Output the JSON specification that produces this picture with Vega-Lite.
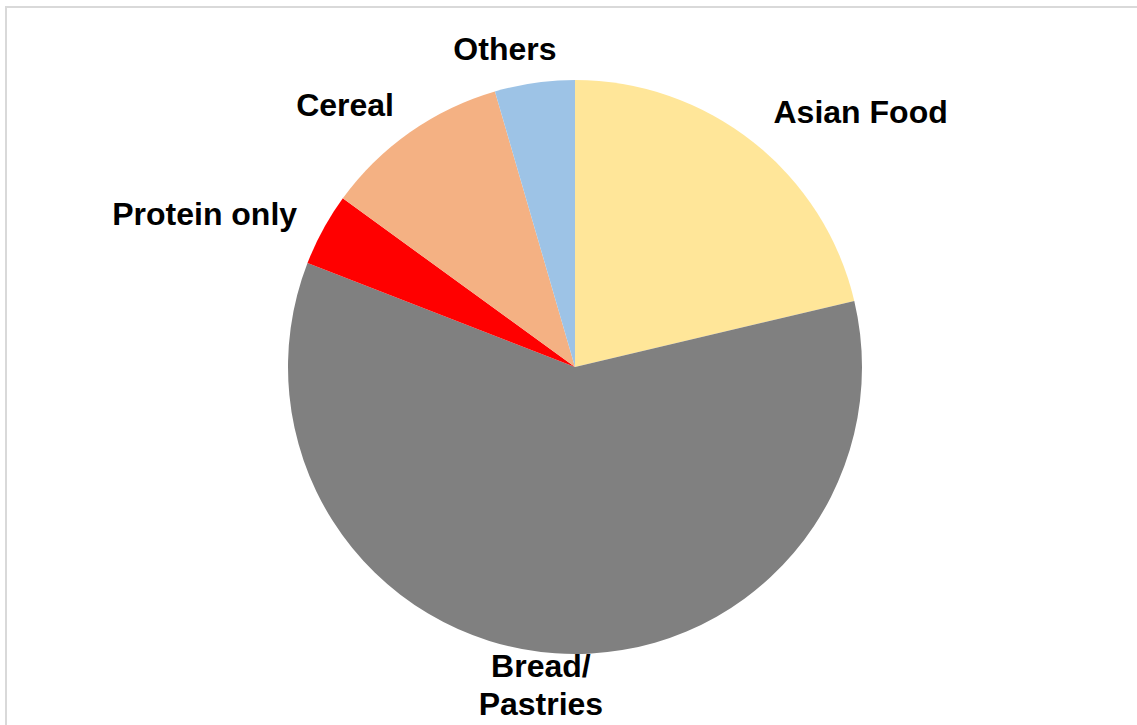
{
  "$schema": "https://vega.github.io/schema/vega-lite/v6.json",
  "width": 1138,
  "height": 720,
  "padding": {"left": 6, "top": 7, "right": 0, "bottom": 0},
  "autosize": {"type": "none"},
  "background": "white",
  "view": {"stroke": "#d9d9d9", "strokeWidth": 2},
  "data": {
    "values": [
      {"category": "Asian Food", "label": "Asian Food", "value": 21.3, "order": 1, "side": "right"},
      {"category": "Bread/Pastries", "label": "Bread/\nPastries", "value": 59.6, "order": 2, "side": "bottom"},
      {"category": "Protein only", "label": "Protein only", "value": 4.1, "order": 3, "side": "left"},
      {"category": "Cereal", "label": "Cereal", "value": 10.5, "order": 4, "side": "left"},
      {"category": "Others", "label": "Others", "value": 4.5, "order": 5, "side": "top"}
    ]
  },
  "encoding": {
    "theta": {"field": "value", "type": "quantitative", "stack": true},
    "order": {"field": "order", "type": "quantitative"}
  },
  "layer": [
    {
      "mark": {"type": "arc", "outerRadius": 287, "stroke": null},
      "encoding": {
        "color": {
          "field": "category",
          "type": "nominal",
          "scale": {
            "domain": ["Asian Food", "Bread/Pastries", "Protein only", "Cereal", "Others"],
            "range": ["#FFE699", "#808080", "#FF0000", "#F4B183", "#9DC3E6"]
          },
          "legend": null
        }
      }
    },
    {
      "mark": {"type": "text", "radius": 320, "dy": -3, "align": "left", "baseline": "middle", "font": "Liberation Sans", "fontWeight": "bold", "fontSize": 32, "fill": "#000000"},
      "encoding": {"text": {"condition": {"test": "datum.side == 'right'", "field": "label", "type": "nominal"}, "value": ""}}
    },
    {
      "mark": {"type": "text", "radius": 320, "dx": 3, "dy": 1, "align": "right", "baseline": "middle", "font": "Liberation Sans", "fontWeight": "bold", "fontSize": 32, "fill": "#000000"},
      "encoding": {"text": {"condition": {"test": "datum.side == 'left'", "field": "label", "type": "nominal"}, "value": ""}}
    },
    {
      "mark": {"type": "text", "radius": 320, "dx": -25, "align": "center", "baseline": "middle", "font": "Liberation Sans", "fontWeight": "bold", "fontSize": 32, "fill": "#000000"},
      "encoding": {"text": {"condition": {"test": "datum.side == 'top'", "field": "label", "type": "nominal"}, "value": ""}}
    },
    {
      "mark": {"type": "text", "radius": 320, "dx": -12, "dy": -19, "align": "center", "baseline": "middle", "lineBreak": "\n", "lineHeight": 38, "font": "Liberation Sans", "fontWeight": "bold", "fontSize": 32, "fill": "#000000"},
      "encoding": {"text": {"condition": {"test": "datum.side == 'bottom'", "field": "label", "type": "nominal"}, "value": ""}}
    }
  ]
}
